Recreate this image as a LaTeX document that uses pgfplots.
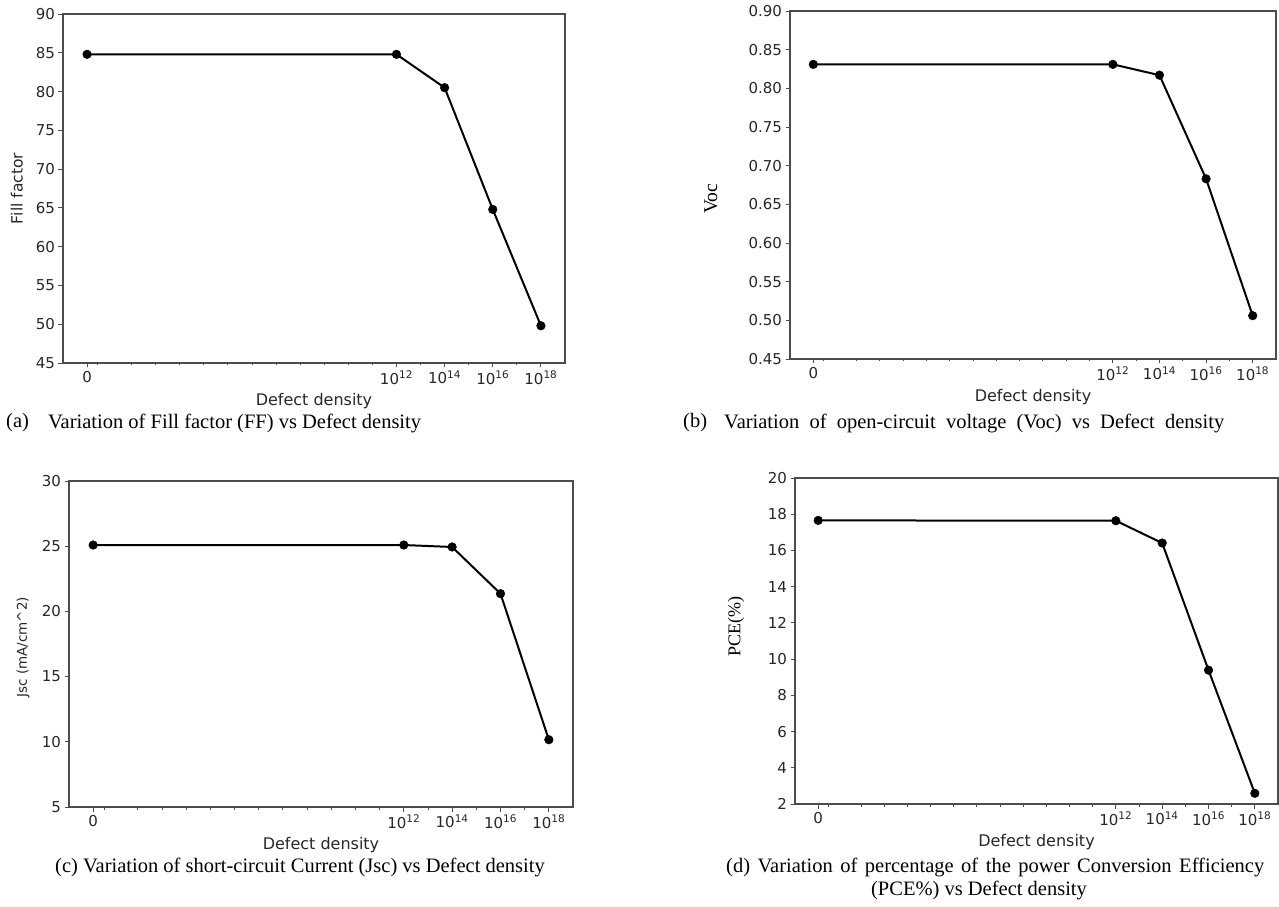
\documentclass[border=0pt]{standalone}
\usepackage{fontspec}
\setmainfont{Liberation Serif}
\newfontfamily\dv{DejaVu Sans}
\usepackage{pgfplots}
\pgfplotsset{compat=1.18}

\pgfplotsset{
  mystyle/.style={
    scale only axis,
    xmin=-1, xmax=19.85,
    xtick={0,12.85,14.85,16.85,18.85},
    xticklabels={0,10\textsuperscript{12},10\textsuperscript{14},10\textsuperscript{16},10\textsuperscript{18}},
    minor xtick={0.45,1.85,2.85,3.85,4.85,5.85,6.85,7.85,8.85,9.85,10.85,11.85,13.85,15.85,17.85},
    tick align=outside,
    tick pos=left,
    major tick length=4.5pt,
    minor tick length=2.5pt,
    axis line style={black!70, line width=1.1pt},
    every tick/.style={black!70, line width=0.9pt},
    tick label style={font=\dv\fontsize{15}{17}\selectfont, text=black!85},
    /pgf/number format/assume math mode=true,
    xlabel={Defect density},
    every axis x label/.style={at={(axis description cs:0.5,0)}, anchor=center, yshift=-38pt, font=\dv\fontsize{16}{19}\selectfont, text=black!85},
    every axis y label/.style={rotate=90, anchor=center, font=\dv\fontsize{15.5}{18}\selectfont, text=black!85},
  },
  myplot/.style={black, line width=2pt, mark=*, mark size=4.3pt, mark options={fill=black, draw=black, line width=0.5pt}}
}

\begin{document}
\begin{tikzpicture}
\path[use as bounding box] (0pt,0pt) rectangle (1279pt,906pt);

% (a) Fill factor
\begin{axis}[mystyle, anchor=south west, at={(63pt,543pt)}, width=502pt, height=349pt,
  ymin=45, ymax=90, ytick={45,50,55,60,65,70,75,80,85,90},
  ylabel={Fill factor}, ylabel style={at={(axis description cs:-0.092,0.5)}}]
\addplot[myplot] coordinates {(0,84.8) (12.85,84.8) (14.85,80.5) (16.85,64.8) (18.85,49.8)};
\end{axis}

% (b) Voc
\begin{axis}[mystyle, anchor=south west, at={(790pt,547pt)}, width=486pt, height=348pt,
  ymin=0.45, ymax=0.90, ytick={0.45,0.50,0.55,0.60,0.65,0.70,0.75,0.80,0.85,0.90},
  yticklabel style={/pgf/number format/.cd, fixed, fixed zerofill, precision=2},
  ylabel={Voc}, ylabel style={at={(axis description cs:-0.163,0.46)}, font=\rmfamily\fontsize{19.5}{22}\selectfont, text=black}]
\addplot[myplot] coordinates {(0,0.831) (12.85,0.831) (14.85,0.817) (16.85,0.683) (18.85,0.506)};
\end{axis}

% (c) Jsc
\begin{axis}[mystyle, anchor=south west, at={(69pt,99pt)}, width=504pt, height=326pt,
  ymin=5, ymax=30, ytick={5,10,15,20,25,30},
  ylabel={Jsc (mA/cm\^{}2)}, ylabel style={at={(axis description cs:-0.091,0.49)}, font=\dv\fontsize{13.5}{16}\selectfont}]
\addplot[myplot] coordinates {(0,25.09) (12.85,25.09) (14.85,24.94) (16.85,21.36) (18.85,10.16)};
\end{axis}

% (d) PCE
\begin{axis}[mystyle, anchor=south west, at={(795pt,102pt)}, width=483pt, height=326pt,
  ymin=2, ymax=20, ytick={2,4,6,8,10,12,14,16,18,20},
  ylabel={PCE(\%)}, ylabel style={at={(axis description cs:-0.122,0.543)}, font=\rmfamily\fontsize{18}{21}\selectfont, text=black}]
\addplot[myplot] coordinates {(0,17.66) (12.85,17.64) (14.85,16.41) (16.85,9.39) (18.85,2.59)};
\end{axis}

% captions
\begin{scope}[every node/.style={font=\fontsize{20.5}{24}\selectfont, inner sep=0pt}]
\node[anchor=west] at (6pt,483pt) {(a)};
\node[anchor=west] at (48pt,483pt) {Variation of Fill factor (FF) vs Defect density};
\node[anchor=west] at (683pt,483pt) {(b)};
\node[anchor=west] at (724pt,483pt) {\makebox[500pt][s]{Variation of open-circuit voltage (Voc) vs Defect density}};
\node[anchor=center] at (300pt,39pt) {(c) Variation of short-circuit Current (Jsc) vs Defect density};
\node[anchor=west] at (726pt,39pt) {\makebox[538pt][s]{(d) Variation of percentage of the power Conversion Efficiency}};
\node[anchor=center] at (979pt,16pt) {(PCE\%) vs Defect density};
\end{scope}
\end{tikzpicture}
\end{document}
